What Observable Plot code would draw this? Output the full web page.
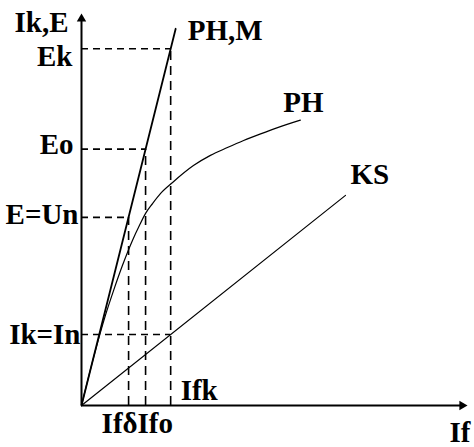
<!DOCTYPE html>
<html>
<head>
<meta charset="utf-8">
<script src="https://cdn.jsdelivr.net/npm/d3@7"></script>
<script src="https://cdn.jsdelivr.net/npm/@observablehq/plot@0.6"></script>
<style>
  body { margin: 0; background: #fff; }
</style>
</head>
<body>
<div id="chart"></div>
<script>
// Field current levels (If), relative units
const fieldNames = ["Ifδ", "Ifo", "Ifk"];
const fieldValues = [12.2, 16.6, 23.1];

// EMF / current levels on the vertical axis, relative units
const levelNames = ["Ek", "Eo", "E=Un", "Ik=In"];
const levelValues = [91.0, 65.4, 48.0, 18.1];

// Air-gap line (PH,M)
const airGapIf = [0, 24.4];
const airGapE = [0, 96.1];

// No-load characteristic (PH)
const noLoadIf = [0, 3.6, 6.2, 8.3, 10.6, 13.2, 15.0, 16.6, 18.4, 20.5, 23.6, 29.0, 33.4, 37.8, 42.0, 46.4, 50.8, 56.7];
const noLoadE  = [0, 14.0, 23.0, 29.3, 35.7, 42.1, 45.9, 49.0, 51.5, 54.1, 56.9, 61.2, 63.8, 65.8, 67.6, 69.3, 70.9, 72.8];

// Short-circuit characteristic (KS)
const shortIf = [0, 68.4];
const shortIk = [0, 53.6];

const [Ifd, Ifo, Ifk] = fieldValues;
const [Ek, Eo, Un, In] = levelValues;

const airGap = airGapIf.map((x, i) => ({x, y: airGapE[i]}));
const noLoad = noLoadIf.map((x, i) => ({x, y: noLoadE[i]}));
const shortCircuit = shortIf.map((x, i) => ({x, y: shortIk[i]}));

// Dashed construction lines
const hGuides = [
  {y: Ek, x2: Ifk},
  {y: Eo, x2: Ifo},
  {y: Un, x2: Ifd},
  {y: In, x2: Ifk}
];
const vGuides = [
  {x: Ifd, y2: Un},
  {x: Ifo, y2: Eo},
  {x: Ifk, y2: Ek}
];

const font = {
  fontFamily: "serif",
  fontWeight: "bold",
  fontSize: 29,
  fill: "black"
};
const label = (x, y, text, opts) =>
  Plot.text([{x, y, text}], {x: "x", y: "y", text: "text", ...font, ...opts});

function draw() {
  return Plot.plot({
    width: 474,
    height: 447,
    marginLeft: 81,
    marginRight: 7,
    marginTop: 13,
    marginBottom: 42,
    x: {domain: [0, 100], axis: null},
    y: {domain: [0, 100], axis: null},
    style: {background: "white"},
    marks: [
      // dashed guides
      Plot.ruleY(hGuides, {y: "y", x1: 0, x2: "x2", stroke: "black", strokeWidth: 1.6, strokeDasharray: "7,5"}),
      Plot.ruleX(vGuides, {x: "x", y1: 0, y2: "y2", stroke: "black", strokeWidth: 1.6, strokeDasharray: "9,6"}),
      // characteristics
      Plot.line(shortCircuit, {x: "x", y: "y", stroke: "black", strokeWidth: 1.2}),
      Plot.line(noLoad, {x: "x", y: "y", stroke: "black", strokeWidth: 1.2, curve: "monotone-x"}),
      Plot.line(airGap, {x: "x", y: "y", stroke: "black", strokeWidth: 1.8}),
      // axes with arrowheads
      Plot.ruleX([0], {y1: 0, y2: 99, stroke: "black", strokeWidth: 2}),
      Plot.ruleY([0], {x1: 0, x2: 99, stroke: "black", strokeWidth: 2}),
      Plot.dot([{x: 0, y: 100}], {x: "x", y: "y", symbol: "triangle", r: 3.5, fill: "black", stroke: "none", dy: 5.4}),
      Plot.dot([{x: 100, y: 0}], {x: "x", y: "y", symbol: "triangle", r: 3.5, fill: "black", stroke: "none", rotate: 90, dx: -5.4}),
      // axis titles
      label(0, 100, "Ik,E", {textAnchor: "end", dx: -13, dy: 9.5}),
      label(100, 0, "If", {textAnchor: "end", dx: 3, dy: 27.5}),
      // vertical-axis levels
      label(0, Ek, levelNames[0], {textAnchor: "end", dx: -9, dy: 8}),
      label(0, Eo, levelNames[1], {textAnchor: "end", dx: -8, dy: -4}),
      label(0, Un, levelNames[2], {textAnchor: "end", dx: -3, dy: -3}),
      label(0, In, levelNames[3], {textAnchor: "end", dx: -1, dy: 0}),
      // field current levels
      label(Ifd, 0, fieldNames[0], {textAnchor: "end", dx: 9, dy: 18.5}),
      label(Ifo, 0, fieldNames[1], {textAnchor: "start", dx: -8, dy: 18.5}),
      label(Ifk, 0, fieldNames[2], {textAnchor: "start", dx: 10, dy: -14.3}),
      // curve names
      label(airGapIf[1], airGapE[1], "PH,M", {textAnchor: "start", dx: 12, dy: 1.6}),
      label(noLoadIf[noLoadIf.length - 1], noLoadE[noLoadE.length - 1], "PH", {textAnchor: "start", dx: -17, dy: -17.3}),
      label(shortIf[1], shortIk[1], "KS", {textAnchor: "start", dx: 5, dy: -20.3})
    ]
  });
}

const host = document.getElementById("chart");
host.appendChild(draw());

// Redraw once the serif face is resolved so the labels pick it up
if (document.fonts && document.fonts.load) {
  document.fonts.load("bold 29px serif", "IkEUnPHMKSfδo=,")
    .then(() => host.replaceChildren(draw()))
    .catch(() => {});
}
</script>
</body>
</html>
